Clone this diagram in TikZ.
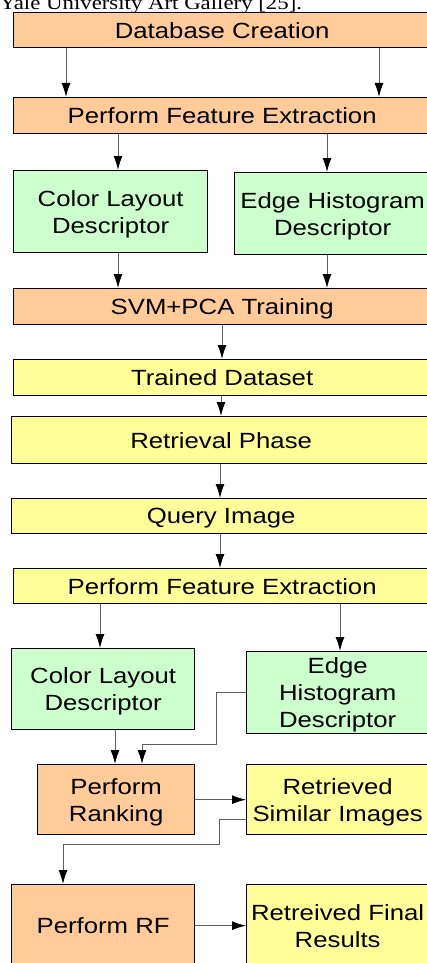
\documentclass[tikz,border=0pt]{standalone}
\usepackage{fontspec}
\setmainfont{Liberation Sans}[FakeStretch=1.17]
\newfontfamily\capfont{Liberation Serif}[FakeStretch=1.17]
\usepackage{tikz}
\usetikzlibrary{arrows.meta}
\definecolor{peach}{RGB}{255,204,153}
\definecolor{mint}{RGB}{204,255,204}
\definecolor{lemon}{RGB}{255,255,153}
\definecolor{wire}{RGB}{95,95,95}

\begin{document}
\begin{tikzpicture}
[x=1pt,y=-1pt,%
  every node/.style={draw=black,line width=1.3pt,anchor=north west,inner sep=0pt,%
    align=center,text depth=0pt,font=\fontsize{22}{27}\selectfont},%
  orangebox/.style={fill=peach},%
  greenbox/.style={fill=mint},%
  yellowbox/.style={fill=lemon},%
  link/.style={->,draw=wire,line width=1pt},%
  >={Latex[length=14pt,width=9pt,black]}]
\useasboundingbox (0,0) rectangle (427,963);
\node[draw=none,anchor=base west,font=\capfont\fontsize{19.5}{22}\selectfont] (cap) at (-1,9.5) {Yale University Art Gallery [25].};
% training part
\node[orangebox,minimum width=417pt,minimum height=35pt] (db) at (13,12) {Database Creation};
\node[orangebox,minimum width=417pt,minimum height=36pt] (fe1) at (13,97) {Perform Feature Extraction};
\node[greenbox,minimum width=194pt,minimum height=82pt] (cl1) at (13,170) {Color Layout\\Descriptor};
\node[greenbox,minimum width=196pt,minimum height=82pt] (eh1) at (234,172) {Edge Histogram\\Descriptor};
\node[orangebox,minimum width=417pt,minimum height=36pt] (svm) at (13,288) {SVM+PCA Training};
\node[yellowbox,minimum width=417pt,minimum height=36pt] (td) at (13,359) {Trained Dataset};
% retrieval part
\node[yellowbox,minimum width=419pt,minimum height=47pt] (rp) at (11,416) {Retrieval Phase};
\node[yellowbox,minimum width=419pt,minimum height=35pt] (qi) at (11,498) {Query Image};
\node[yellowbox,minimum width=417pt,minimum height=35pt] (fe2) at (13,568) {Perform Feature Extraction};
\node[greenbox,minimum width=183pt,minimum height=81pt] (cl2) at (11,648) {Color Layout\\Descriptor};
\node[greenbox,minimum width=182pt,minimum height=82pt] (eh2) at (246,651) {Edge\\Histogram\\Descriptor};
\node[orangebox,minimum width=157pt,minimum height=70pt] (rank) at (37,764) {Perform\\Ranking};
\node[yellowbox,minimum width=182pt,minimum height=70pt] (ret) at (246,764) {Retrieved\\Similar Images};
\node[orangebox,minimum width=183pt,minimum height=82pt] (rf) at (11,884) {Perform RF};
\node[yellowbox,minimum width=182pt,minimum height=82pt] (fin) at (246,884) {Retreived Final\\Results};
% connectors
\draw[link] (db.south -| 66,0) -- (fe1.north -| 66,0);
\draw[link] (db.south -| 379,0) -- (fe1.north -| 379,0);
\draw[link] (fe1.south -| 118,0) -- (cl1.north -| 118,0);
\draw[link] (fe1.south -| 327,0) -- (eh1.north -| 327,0);
\draw[link] (cl1.south -| 118,0) -- (svm.north -| 118,0);
\draw[link] (eh1.south -| 327,0) -- (svm.north -| 327,0);
\draw[link] (svm.south -| 222,0) -- (td.north -| 222,0);
\draw[link] (td.south -| 221,0) -- (rp.north -| 221,0);
\draw[link] (rp.south -| 220,0) -- (qi.north -| 220,0);
\draw[link] (qi.south -| 220,0) -- (fe2.north -| 220,0);
\draw[link] (fe2.south -| 100,0) -- (cl2.north -| 100,0);
\draw[link] (fe2.south -| 340,0) -- (eh2.north -| 340,0);
\draw[link] (cl2.south -| 115,0) -- (rank.north -| 115,0);
\draw[link] (eh2.west) -| (216,744) -| (rank.north -| 142,0);
\draw[link] (rank.east) -- (ret.west |- rank.east);
\draw[link] (ret.west |- 0,819) -| (219,844) -| (rf.north -| 63,0);
\draw[link] (rf.east) -- (fin.west |- rf.east);
\end{tikzpicture}
\end{document}
